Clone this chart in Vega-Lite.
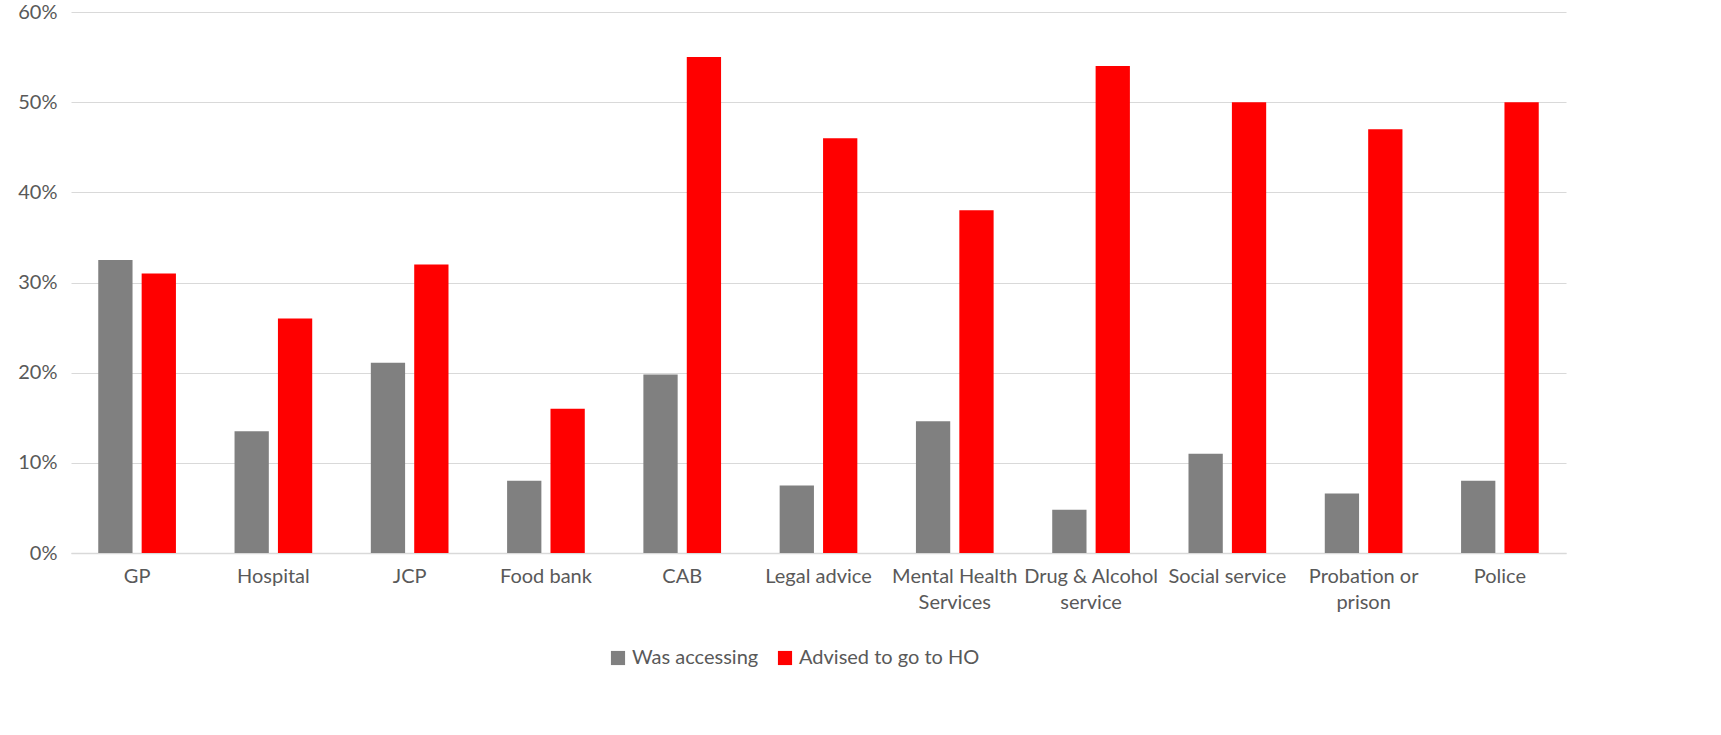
{
  "$schema": "https://vega.github.io/schema/vega-lite/v6.json",
  "width": 1495,
  "height": 541,
  "autosize": {"type": "none"},
  "padding": {"left": 71, "top": 12, "right": 155, "bottom": 182},
  "background": "white",
  "config": {
    "view": {"stroke": null},
    "font": "Lato"
  },
  "data": {
    "values": [
      {"cat": "GP", "series": "Was accessing", "v": 0.325},
      {"cat": "GP", "series": "Advised to go to HO", "v": 0.31},
      {"cat": "Hospital", "series": "Was accessing", "v": 0.135},
      {"cat": "Hospital", "series": "Advised to go to HO", "v": 0.26},
      {"cat": "JCP", "series": "Was accessing", "v": 0.211},
      {"cat": "JCP", "series": "Advised to go to HO", "v": 0.32},
      {"cat": "Food bank", "series": "Was accessing", "v": 0.08},
      {"cat": "Food bank", "series": "Advised to go to HO", "v": 0.16},
      {"cat": "CAB", "series": "Was accessing", "v": 0.198},
      {"cat": "CAB", "series": "Advised to go to HO", "v": 0.55},
      {"cat": "Legal advice", "series": "Was accessing", "v": 0.075},
      {"cat": "Legal advice", "series": "Advised to go to HO", "v": 0.46},
      {"cat": "Mental Health|Services", "series": "Was accessing", "v": 0.146},
      {"cat": "Mental Health|Services", "series": "Advised to go to HO", "v": 0.38},
      {"cat": "Drug & Alcohol|service", "series": "Was accessing", "v": 0.048},
      {"cat": "Drug & Alcohol|service", "series": "Advised to go to HO", "v": 0.54},
      {"cat": "Social service", "series": "Was accessing", "v": 0.11},
      {"cat": "Social service", "series": "Advised to go to HO", "v": 0.50},
      {"cat": "Probation or|prison", "series": "Was accessing", "v": 0.066},
      {"cat": "Probation or|prison", "series": "Advised to go to HO", "v": 0.47},
      {"cat": "Police", "series": "Was accessing", "v": 0.08},
      {"cat": "Police", "series": "Advised to go to HO", "v": 0.50}
    ]
  },
  "mark": {"type": "bar"},
  "encoding": {
    "x": {
      "field": "cat",
      "type": "nominal",
      "sort": null,
      "scale": {"paddingInner": 0.43, "paddingOuter": 0.2},
      "axis": {
        "title": null,
        "labelAngle": 0,
        "labelExpr": "split(datum.label, '|')",
        "labelFontSize": 20,
        "labelColor": "#595959",
        "labelPadding": 13,
        "labelLineHeight": 26,
        "ticks": false,
        "domainColor": "#d9d9d9",
        "domainWidth": 1.5,
        "grid": false
      }
    },
    "xOffset": {
      "field": "series",
      "type": "nominal",
      "sort": ["Was accessing", "Advised to go to HO"],
      "scale": {"paddingInner": 0.21}
    },
    "y": {
      "field": "v",
      "type": "quantitative",
      "scale": {"domain": [0, 0.6], "nice": false},
      "axis": {
        "title": null,
        "format": ".0%",
        "values": [0, 0.1, 0.2, 0.3, 0.4, 0.5, 0.6],
        "labelFontSize": 20,
        "labelColor": "#595959",
        "labelPadding": 14,
        "ticks": false,
        "domain": false,
        "gridColor": "#d9d9d9",
        "gridWidth": 1.2
      }
    },
    "color": {
      "field": "series",
      "type": "nominal",
      "sort": ["Was accessing", "Advised to go to HO"],
      "scale": {"domain": ["Was accessing", "Advised to go to HO"], "range": ["#808080", "#ff0000"]},
      "legend": {
        "title": null,
        "orient": "none",
        "legendX": 537,
        "legendY": 636,
        "direction": "horizontal",
        "symbolType": "square",
        "symbolSize": 200,
        "symbolStrokeWidth": 0,
        "labelFontSize": 20,
        "labelLimit": 400,
        "labelColor": "#595959",
        "columnPadding": 16
      }
    }
  }
}
